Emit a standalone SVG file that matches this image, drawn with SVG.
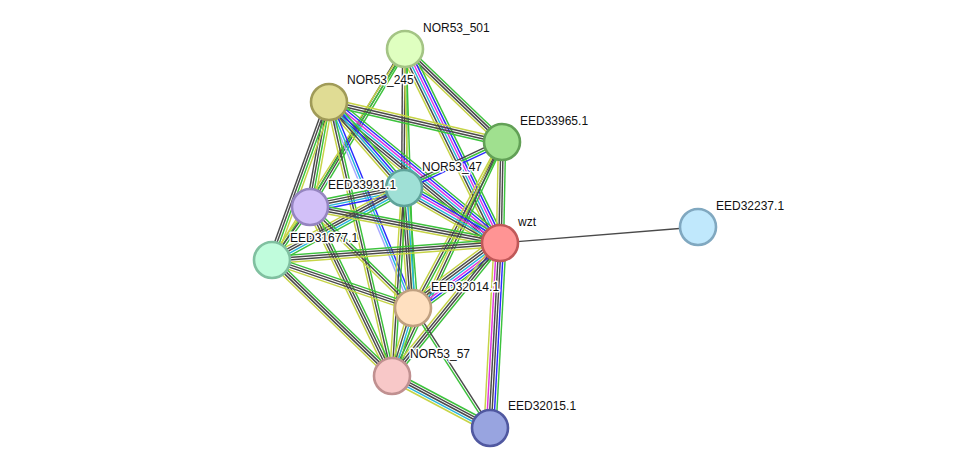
<svg xmlns="http://www.w3.org/2000/svg" width="975" height="473" viewBox="0 0 975 473">
<style>
#edges line{stroke-width:1.45;vector-effect:non-scaling-stroke;fill:none}
.g{stroke:#3cc23c}.y{stroke:#c6d446}.d{stroke:#4a4a4a}.b{stroke:#2b2bff}.c{stroke:#26b6de}.m{stroke:#e034e0}.h{stroke:#a8a8ff}
.n circle{stroke-width:2.6}
.n text{font-family:"Liberation Sans",Arial,sans-serif;font-size:12px;fill:#111;stroke:#fff;stroke-width:3;paint-order:stroke;stroke-linejoin:round}
</style>
<rect width="975" height="473" fill="#fff"/>
<g id="edges">
<g transform="matrix(97 93 -0.691 0.722 405 49)"><line class="g" x2="1" y1="-3.6" y2="-3.6"/><line class="d" x2="1" y1="-1.2" y2="-1.2"/><line class="d" x2="1" y1="1.2" y2="1.2"/><line class="y" x2="1" y1="3.6" y2="3.6"/></g>
<g transform="matrix(95 194 -0.899 0.44 405 49)"><line class="g" x2="1" y1="-6" y2="-6"/><line class="b" x2="1" y1="-3.6" y2="-3.6"/><line class="m" x2="1" y1="-1.2" y2="-1.2"/><line class="c" x2="1" y1="1.2" y2="1.2"/><line class="d" x2="1" y1="3.6" y2="3.6"/><line class="y" x2="1" y1="6" y2="6"/></g>
<g transform="matrix(-1 139 -1 -0.007 405 49)"><line class="g" x2="1" y1="-2.4" y2="-2.4"/><line class="d" x2="1" y1="0" y2="0"/><line class="d" x2="1" y1="2.4" y2="2.4"/></g>
<g transform="matrix(-95 158 -0.857 -0.515 405 49)"><line class="g" x2="1" y1="-2.4" y2="-2.4"/><line class="d" x2="1" y1="0" y2="0"/><line class="d" x2="1" y1="2.4" y2="2.4"/></g>
<g transform="matrix(-133 211 -0.846 -0.533 405 49)"><line class="g" x2="1" y1="-1.2" y2="-1.2"/><line class="y" x2="1" y1="1.2" y2="1.2"/></g>
<g transform="matrix(8 259 -1 0.031 405 49)"><line class="g" x2="1" y1="-1.2" y2="-1.2"/><line class="y" x2="1" y1="1.2" y2="1.2"/></g>
<g transform="matrix(173 40 -0.225 0.974 329 102)"><line class="y" x2="1" y1="-3.6" y2="-3.6"/><line class="d" x2="1" y1="-1.2" y2="-1.2"/><line class="d" x2="1" y1="1.2" y2="1.2"/><line class="g" x2="1" y1="3.6" y2="3.6"/></g>
<g transform="matrix(171 141 -0.636 0.772 329 102)"><line class="g" x2="1" y1="-7.2" y2="-7.2"/><line class="b" x2="1" y1="-4.8" y2="-4.8"/><line class="m" x2="1" y1="-2.4" y2="-2.4"/><line class="c" x2="1" y1="0" y2="0"/><line class="d" x2="1" y1="2.4" y2="2.4"/><line class="d" x2="1" y1="4.8" y2="4.8"/><line class="y" x2="1" y1="7.2" y2="7.2"/></g>
<g transform="matrix(75 86 -0.754 0.657 329 102)"><line class="g" x2="1" y1="-4.8" y2="-4.8"/><line class="b" x2="1" y1="-2.4" y2="-2.4"/><line class="c" x2="1" y1="0" y2="0"/><line class="d" x2="1" y1="2.4" y2="2.4"/><line class="y" x2="1" y1="4.8" y2="4.8"/></g>
<g transform="matrix(84 206 -0.926 0.378 329 102)"><line class="b" x2="1" y1="-2.4" y2="-2.4"/><line class="c" x2="1" y1="0" y2="0"/><line class="h" x2="1" y1="2.4" y2="2.4"/></g>
<g transform="matrix(-19 105 -0.984 -0.178 329 102)"><line class="y" x2="1" y1="-3.6" y2="-3.6"/><line class="g" x2="1" y1="-1.2" y2="-1.2"/><line class="d" x2="1" y1="1.2" y2="1.2"/><line class="d" x2="1" y1="3.6" y2="3.6"/></g>
<g transform="matrix(-57 158 -0.94 -0.339 329 102)"><line class="y" x2="1" y1="-3.6" y2="-3.6"/><line class="g" x2="1" y1="-1.2" y2="-1.2"/><line class="d" x2="1" y1="1.2" y2="1.2"/><line class="d" x2="1" y1="3.6" y2="3.6"/></g>
<g transform="matrix(63 274 -0.975 0.224 329 102)"><line class="g" x2="1" y1="-2.4" y2="-2.4"/><line class="d" x2="1" y1="0" y2="0"/><line class="y" x2="1" y1="2.4" y2="2.4"/></g>
<g transform="matrix(-2 101 -1 -0.02 502 142)"><line class="g" x2="1" y1="-3.6" y2="-3.6"/><line class="d" x2="1" y1="-1.2" y2="-1.2"/><line class="d" x2="1" y1="1.2" y2="1.2"/><line class="y" x2="1" y1="3.6" y2="3.6"/></g>
<g transform="matrix(-98 46 -0.425 -0.905 502 142)"><line class="b" x2="1" y1="-2.4" y2="-2.4"/><line class="g" x2="1" y1="0" y2="0"/><line class="d" x2="1" y1="2.4" y2="2.4"/></g>
<g transform="matrix(-89 166 -0.881 -0.472 502 142)"><line class="g" x2="1" y1="-2.4" y2="-2.4"/><line class="d" x2="1" y1="0" y2="0"/><line class="y" x2="1" y1="2.4" y2="2.4"/></g>
<g transform="matrix(-110 234 -0.905 -0.425 502 142)"><line class="g" x2="1" y1="-2.4" y2="-2.4"/><line class="d" x2="1" y1="0" y2="0"/><line class="y" x2="1" y1="2.4" y2="2.4"/></g>
<g transform="matrix(96 55 -0.497 0.868 404 188)"><line class="g" x2="1" y1="-6" y2="-6"/><line class="b" x2="1" y1="-3.6" y2="-3.6"/><line class="m" x2="1" y1="-1.2" y2="-1.2"/><line class="c" x2="1" y1="1.2" y2="1.2"/><line class="d" x2="1" y1="3.6" y2="3.6"/><line class="y" x2="1" y1="6" y2="6"/></g>
<g transform="matrix(-94 19 -0.198 -0.98 404 188)"><line class="b" x2="1" y1="-4.8" y2="-4.8"/><line class="c" x2="1" y1="-2.4" y2="-2.4"/><line class="d" x2="1" y1="0" y2="0"/><line class="d" x2="1" y1="2.4" y2="2.4"/><line class="g" x2="1" y1="4.8" y2="4.8"/></g>
<g transform="matrix(-132 72 -0.479 -0.878 404 188)"><line class="g" x2="1" y1="-4.8" y2="-4.8"/><line class="c" x2="1" y1="-2.4" y2="-2.4"/><line class="d" x2="1" y1="0" y2="0"/><line class="d" x2="1" y1="2.4" y2="2.4"/><line class="y" x2="1" y1="4.8" y2="4.8"/></g>
<g transform="matrix(9 120 -0.998 0.075 404 188)"><line class="g" x2="1" y1="-4.8" y2="-4.8"/><line class="c" x2="1" y1="-2.4" y2="-2.4"/><line class="d" x2="1" y1="0" y2="0"/><line class="d" x2="1" y1="2.4" y2="2.4"/><line class="y" x2="1" y1="4.8" y2="4.8"/></g>
<g transform="matrix(-12 188 -0.998 -0.064 404 188)"><line class="g" x2="1" y1="-2.4" y2="-2.4"/><line class="d" x2="1" y1="0" y2="0"/><line class="y" x2="1" y1="2.4" y2="2.4"/></g>
<g transform="matrix(190 36 -0.186 0.982 310 207)"><line class="g" x2="1" y1="-3.6" y2="-3.6"/><line class="d" x2="1" y1="-1.2" y2="-1.2"/><line class="d" x2="1" y1="1.2" y2="1.2"/><line class="y" x2="1" y1="3.6" y2="3.6"/></g>
<g transform="matrix(-38 53 -0.813 -0.583 310 207)"><line class="g" x2="1" y1="-2.4" y2="-2.4"/><line class="d" x2="1" y1="0" y2="0"/><line class="y" x2="1" y1="2.4" y2="2.4"/></g>
<g transform="matrix(103 101 -0.7 0.714 310 207)"><line class="g" x2="1" y1="-2.4" y2="-2.4"/><line class="d" x2="1" y1="0" y2="0"/><line class="y" x2="1" y1="2.4" y2="2.4"/></g>
<g transform="matrix(82 169 -0.9 0.437 310 207)"><line class="g" x2="1" y1="-3.6" y2="-3.6"/><line class="d" x2="1" y1="-1.2" y2="-1.2"/><line class="d" x2="1" y1="1.2" y2="1.2"/><line class="y" x2="1" y1="3.6" y2="3.6"/></g>
<g transform="matrix(228 -17 0.074 0.997 272 260)"><line class="g" x2="1" y1="-3.6" y2="-3.6"/><line class="d" x2="1" y1="-1.2" y2="-1.2"/><line class="d" x2="1" y1="1.2" y2="1.2"/><line class="y" x2="1" y1="3.6" y2="3.6"/></g>
<g transform="matrix(141 48 -0.322 0.947 272 260)"><line class="g" x2="1" y1="-3.6" y2="-3.6"/><line class="d" x2="1" y1="-1.2" y2="-1.2"/><line class="d" x2="1" y1="1.2" y2="1.2"/><line class="y" x2="1" y1="3.6" y2="3.6"/></g>
<g transform="matrix(120 116 -0.695 0.719 272 260)"><line class="g" x2="1" y1="-3.6" y2="-3.6"/><line class="d" x2="1" y1="-1.2" y2="-1.2"/><line class="d" x2="1" y1="1.2" y2="1.2"/><line class="y" x2="1" y1="3.6" y2="3.6"/></g>
<line class="d" x1="500" y1="243" x2="698" y2="227"/>
<g transform="matrix(-87 65 -0.599 -0.801 500 243)"><line class="g" x2="1" y1="-7.2" y2="-7.2"/><line class="b" x2="1" y1="-4.8" y2="-4.8"/><line class="m" x2="1" y1="-2.4" y2="-2.4"/><line class="c" x2="1" y1="0" y2="0"/><line class="d" x2="1" y1="2.4" y2="2.4"/><line class="d" x2="1" y1="4.8" y2="4.8"/><line class="y" x2="1" y1="7.2" y2="7.2"/></g>
<g transform="matrix(-108 133 -0.776 -0.63 500 243)"><line class="g" x2="1" y1="-3.6" y2="-3.6"/><line class="d" x2="1" y1="-1.2" y2="-1.2"/><line class="d" x2="1" y1="1.2" y2="1.2"/><line class="y" x2="1" y1="3.6" y2="3.6"/></g>
<g transform="matrix(-10 185 -0.998 -0.054 500 243)"><line class="g" x2="1" y1="-6" y2="-6"/><line class="b" x2="1" y1="-3.6" y2="-3.6"/><line class="d" x2="1" y1="-1.2" y2="-1.2"/><line class="d" x2="1" y1="1.2" y2="1.2"/><line class="m" x2="1" y1="3.6" y2="3.6"/><line class="y" x2="1" y1="6" y2="6"/></g>
<g transform="matrix(-21 68 -0.955 -0.295 413 308)"><line class="g" x2="1" y1="-3.6" y2="-3.6"/><line class="c" x2="1" y1="-1.2" y2="-1.2"/><line class="d" x2="1" y1="1.2" y2="1.2"/><line class="y" x2="1" y1="3.6" y2="3.6"/></g>
<g transform="matrix(77 120 -0.842 0.54 413 308)"><line class="d" x2="1" y1="-1.2" y2="-1.2"/><line class="g" x2="1" y1="1.2" y2="1.2"/></g>
<g transform="matrix(98 52 -0.469 0.884 392 376)"><line class="g" x2="1" y1="-4.8" y2="-4.8"/><line class="d" x2="1" y1="-2.4" y2="-2.4"/><line class="d" x2="1" y1="0" y2="0"/><line class="c" x2="1" y1="2.4" y2="2.4"/><line class="y" x2="1" y1="4.8" y2="4.8"/></g>
</g>
<g id="n-NOR53_501" class="n"><circle cx="405" cy="49" r="18" fill="#dfffc0" stroke="#a4c485"/><text x="423" y="32">NOR53_501</text></g>
<g id="n-NOR53_245" class="n"><circle cx="329" cy="102" r="18" fill="#e0dc94" stroke="#a09b58"/><text x="347" y="84">NOR53_245</text></g>
<g id="n-EED33965" class="n"><circle cx="502" cy="142" r="18" fill="#a0e08f" stroke="#62a056"/><text x="520" y="125">EED33965.1</text></g>
<g id="n-NOR53_47" class="n"><circle cx="404" cy="188" r="18" fill="#9fe0d6" stroke="#5fa39a"/><text x="422" y="171">NOR53_47</text></g>
<g id="n-EED33931" class="n"><circle cx="310" cy="207" r="18" fill="#d2c0f8" stroke="#9585c0"/><text x="328" y="189">EED33931.1</text></g>
<g id="n-EED31677" class="n"><circle cx="272" cy="260" r="18" fill="#c0fcdc" stroke="#80c0a0"/><text x="290" y="242">EED31677.1</text></g>
<g id="n-wzt" class="n"><circle cx="500" cy="243" r="18" fill="#ff9494" stroke="#c05858"/><text x="518" y="226">wzt</text></g>
<g id="n-EED32237" class="n"><circle cx="698" cy="227" r="18" fill="#c0e8fc" stroke="#80a8c0"/><text x="716" y="210">EED32237.1</text></g>
<g id="n-EED32014" class="n"><circle cx="413" cy="308" r="18" fill="#ffe0c0" stroke="#c0a080"/><text x="431" y="291">EED32014.1</text></g>
<g id="n-NOR53_57" class="n"><circle cx="392" cy="376" r="18" fill="#f8c8c8" stroke="#c09090"/><text x="410" y="358">NOR53_57</text></g>
<g id="n-EED32015" class="n"><circle cx="490" cy="428" r="18" fill="#98a4e0" stroke="#5058a0"/><text x="508" y="410">EED32015.1</text></g>
</svg>
